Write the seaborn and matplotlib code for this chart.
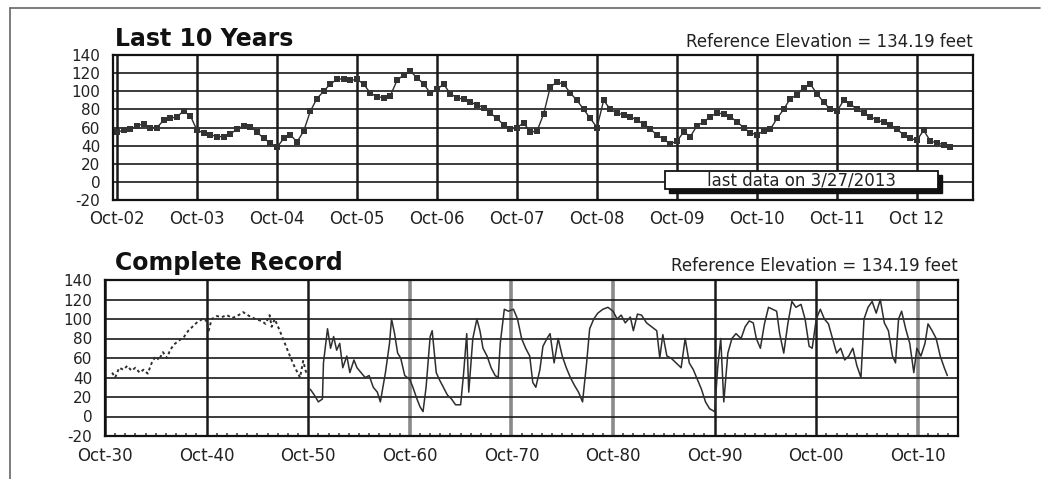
import numpy as np
import pandas as pd
import matplotlib
matplotlib.use("Agg")
import matplotlib.pyplot as plt
from matplotlib.patches import Rectangle
from matplotlib.lines import Line2D
import seaborn as sns

# ---------------- data ----------------
# Last 10 years: monthly levels (feet relative to reference), Oct 2002 .. Mar 2013
recent_levels = [
    55, 57, 58, 62, 64, 60, 60, 68, 70, 72, 78, 73,          # Oct02-Sep03
    57, 54, 52, 50, 50, 53, 58, 62, 61, 55, 48, 43,          # Oct03-Sep04
    38, 48, 52, 44, 56, 78, 92, 100, 108, 113, 114, 112,     # Oct04-Sep05
    113, 108, 98, 94, 93, 95, 112, 118, 122, 115, 108, 98,   # Oct05-Sep06
    102, 108, 97, 93, 91, 88, 85, 82, 76, 70, 63, 58,        # Oct06-Sep07
    60, 65, 55, 56, 75, 105, 110, 108, 98, 90, 80, 70,       # Oct07-Sep08
    60, 90, 80, 76, 74, 72, 68, 64, 58, 52, 47, 42,          # Oct08-Sep09
    45, 55, 50, 62, 66, 72, 76, 75, 72, 66, 60, 54,          # Oct09-Sep10
    52, 56, 58, 70, 80, 92, 96, 104, 108, 97, 88, 80,        # Oct10-Sep11
    78, 90, 86, 80, 76, 72, 68, 66, 63, 58, 52, 48,          # Oct11-Sep12
    46, 57, 45, 43, 41, 39,                                  # Oct12-Mar13
]
recent_month_index = list(range(len(recent_levels)))
recent_tick_labels = ["Oct-02", "Oct-03", "Oct-04", "Oct-05", "Oct-06", "Oct-07",
                      "Oct-08", "Oct-09", "Oct-10", "Oct-11", "Oct 12"]

# Complete record (early sparse period)
early_years = [1930.7, 1931.0, 1931.4, 1931.8, 1932.2, 1932.6, 1933.0, 1933.4, 1933.8,
               1934.2, 1934.6, 1935.0, 1935.3, 1935.7, 1936.1, 1936.4, 1936.8, 1937.3,
               1937.8, 1938.2, 1938.7, 1939.1, 1939.6, 1940.0, 1940.2, 1940.5, 1941.0,
               1941.5, 1942.0, 1942.5, 1943.0, 1943.6, 1944.2, 1944.8, 1945.4, 1945.8,
               1946.2, 1946.4, 1946.7, 1947.2, 1947.7, 1948.2, 1948.7, 1949.2, 1949.5,
               1949.8]
early_levels = [45, 40, 50, 48, 52, 47, 50, 45, 48,
                44, 55, 62, 58, 66, 60, 68, 74, 78,
                82, 88, 93, 97, 100, 98, 88, 100, 103,
                102, 104, 101, 103, 107, 103, 100, 98, 95,
                104, 92, 100, 88, 75, 62, 50, 40, 57,
                45]

# Complete record (later dense period)
later_years = [1950.2, 1950.6, 1951.0, 1951.4, 1951.5, 1951.9, 1952.2, 1952.5, 1952.8,
               1953.1, 1953.4, 1953.8, 1954.1, 1954.5, 1954.8, 1955.2, 1955.6, 1956.0,
               1956.4, 1956.8, 1957.1, 1957.6, 1958.0, 1958.2, 1958.5, 1958.8, 1959.1,
               1959.5, 1960.0, 1960.3, 1960.7, 1961.0, 1961.3, 1961.6, 1962.0, 1962.2,
               1962.6, 1962.9, 1963.3, 1963.7, 1964.1, 1964.5, 1965.0, 1965.3, 1965.6,
               1965.8, 1966.2, 1966.6, 1966.9, 1967.2, 1967.6, 1968.0, 1968.4, 1968.7,
               1968.9, 1969.3, 1969.7, 1970.2, 1970.6, 1971.0, 1971.4, 1971.8, 1972.1,
               1972.4, 1972.8, 1973.1, 1973.5, 1973.8, 1974.2, 1974.6, 1975.0, 1975.4,
               1975.8, 1976.2, 1976.6, 1977.0, 1977.4, 1977.7, 1978.1, 1978.5, 1979.0,
               1979.5, 1980.0, 1980.4, 1980.8, 1981.2, 1981.7, 1982.0, 1982.4, 1982.8,
               1983.3, 1983.8, 1984.3, 1984.6, 1984.9, 1985.3, 1985.7, 1986.2, 1986.7,
               1987.1, 1987.5, 1987.9, 1988.3, 1988.7, 1989.1, 1989.5, 1990.0, 1990.3,
               1990.6, 1990.9, 1991.3, 1991.7, 1992.1, 1992.6, 1993.0, 1993.4, 1993.8,
               1994.1, 1994.5, 1994.9, 1995.3, 1995.7, 1996.1, 1996.4, 1996.8, 1997.2,
               1997.6, 1998.0, 1998.5, 1998.9, 1999.3, 1999.6, 2000.0, 2000.4, 2000.8,
               2001.2, 2001.6, 2002.0, 2002.4, 2002.8, 2003.2, 2003.6, 2004.0, 2004.4,
               2004.7, 2005.1, 2005.5, 2005.9, 2006.3, 2006.7, 2007.1, 2007.5, 2007.8,
               2008.1, 2008.4, 2008.8, 2009.2, 2009.6, 2009.9, 2010.3, 2010.7, 2011.0,
               2011.4, 2011.8, 2012.2, 2012.6, 2012.9]
later_levels = [28, 22, 15, 18, 55, 90, 70, 82, 68,
                75, 50, 62, 45, 58, 50, 45, 40, 42,
                30, 25, 15, 45, 75, 100, 85, 65, 60,
                42, 38, 30, 18, 10, 5, 30, 82, 88,
                45, 38, 30, 22, 18, 12, 12, 45, 85,
                25, 80, 100, 88, 70, 62, 50, 42, 40,
                75, 110, 108, 110, 100, 80, 70, 62, 35,
                30, 48, 72, 80, 85, 55, 80, 62, 50,
                40, 32, 25, 15, 55, 90, 100, 106, 110,
                112, 108, 100, 104, 96, 102, 88, 105, 104,
                96, 92, 88, 60, 84, 62, 60, 55, 50,
                80, 55, 48, 38, 28, 15, 8, 5, 50,
                80, 15, 65, 80, 85, 80, 92, 98, 96,
                80, 70, 95, 112, 110, 108, 85, 65, 95,
                118, 112, 115, 100, 72, 70, 100, 110, 100,
                95, 80, 65, 70, 58, 62, 70, 52, 40,
                100, 112, 118, 106, 120, 96, 88, 62, 55,
                100, 108, 90, 75, 45, 70, 62, 75, 95,
                88, 80, 62, 50, 42]
record_tick_years = [1930, 1940, 1950, 1960, 1970, 1980, 1990, 2000, 2010]
record_tick_labels = ["Oct-30", "Oct-40", "Oct-50", "Oct-60", "Oct-70",
                      "Oct-80", "Oct-90", "Oct-00", "Oct-10"]

y_ticks = [-20, 0, 20, 40, 60, 80, 100, 120, 140]

# ---------------- figure ----------------
sns.set_theme(style="white")
plt.rcParams["font.family"] = ["DejaVu Sans"]

W, H = 1045, 479
fig = plt.figure(figsize=(W / 100, H / 100), dpi=100)
fig.patch.set_facecolor("white")

def px_axes(left, top, right, bottom):
    return fig.add_axes([left / W, 1 - bottom / H, (right - left) / W, (bottom - top) / H])

ax1 = px_axes(113, 55, 973, 200)
ax2 = px_axes(105, 280, 958, 436)

line_col = "#2e2e2e"
grid_col = "#1a1a1a"

def style_axes(ax):
    ax.set_ylim(-20, 140)
    ax.set_yticks(y_ticks)
    ax.set_yticklabels([str(v) for v in y_ticks])
    ax.grid(True, axis="y", color=grid_col, linewidth=1.2)
    ax.grid(True, axis="x", color=grid_col, linewidth=1.8)
    ax.set_axisbelow(True)
    for s in ax.spines.values():
        s.set_color("#111")
        s.set_linewidth(1.6)
    ax.tick_params(axis="both", which="major", length=0, colors="#222")
    ax.tick_params(axis="y", pad=9, labelsize=11)
    ax.tick_params(axis="x", pad=7, labelsize=12)
    ax.set_xlabel("")
    ax.set_ylabel("")
    ax.set_facecolor("white")

# top: last 10 years
df_recent = pd.DataFrame({"month": recent_month_index, "level": recent_levels})
sns.lineplot(data=df_recent, x="month", y="level", ax=ax1, color=line_col,
             linewidth=1.0, marker="s", markersize=5, markeredgewidth=0,
             markerfacecolor="#333", sort=False)
ax1.set_xlim(-0.6, 128.4)
ax1.set_xticks([12 * i for i in range(len(recent_tick_labels))])
ax1.set_xticklabels(recent_tick_labels)
style_axes(ax1)

# bottom: complete record
df_early = pd.DataFrame({"year": early_years, "level": early_levels})
df_later = pd.DataFrame({"year": later_years, "level": later_levels})
sns.lineplot(data=df_early, x="year", y="level", ax=ax2, color=line_col,
             linewidth=1.4, linestyle=(0, (1.5, 1.5)), sort=False)
sns.lineplot(data=df_later, x="year", y="level", ax=ax2, color=line_col,
             linewidth=1.1, sort=False)
ax2.set_xlim(1930, 2013.95)
ax2.set_xticks(record_tick_years)
ax2.set_xticklabels(record_tick_labels)
style_axes(ax2)
ax2.tick_params(axis="x", pad=8)
ax2.set_xticks(np.arange(1931, 2014, 1), minor=True)
ax2.tick_params(axis="x", which="minor", direction="in", length=2.5, width=1.2,
                color="#444", bottom=True)
# scanned look: some decade lines print lighter/greyer
for lbl, gl in zip(record_tick_labels, ax2.get_xgridlines()):
    if lbl in ("Oct-60", "Oct-70", "Oct-80", "Oct-10"):
        gl.set_color("#8a8a8a")
        gl.set_linewidth(2.6)

# titles
ax1.text(0.002, 1.03, "Last 10 Years", transform=ax1.transAxes, fontsize=17,
         fontweight="bold", ha="left", va="bottom", color="#111")
ax1.text(1.0, 1.03, "Reference Elevation = 134.19 feet", transform=ax1.transAxes,
         fontsize=12, ha="right", va="bottom", color="#222")
ax2.text(0.012, 1.03, "Complete Record", transform=ax2.transAxes, fontsize=17,
         fontweight="bold", ha="left", va="bottom", color="#111")
ax2.text(1.0, 1.03, "Reference Elevation = 134.19 feet", transform=ax2.transAxes,
         fontsize=12, ha="right", va="bottom", color="#222")

# annotation box with drop shadow (axes-fraction geometry)
bx0, by0, bw, bh = 0.642, 0.075, 0.317, 0.122
ax1.add_patch(Rectangle((bx0 + 0.005, by0 - 0.025), bw, bh, transform=ax1.transAxes,
                        facecolor="#111", edgecolor="#111", zorder=5))
ax1.add_patch(Rectangle((bx0, by0), bw, bh, transform=ax1.transAxes,
                        facecolor="white", edgecolor="#111", lw=1.3, zorder=6))
ax1.text(bx0 + bw / 2, by0 + bh / 2, "last data on 3/27/2013", transform=ax1.transAxes,
         fontsize=12, ha="center", va="center", color="#222", zorder=7)

# outer frame (top and left edges of the scanned box)
fig.add_artist(Line2D([10 / W, 10 / W], [0, 1 - 8 / H], color="#666", lw=1.2))
fig.add_artist(Line2D([10 / W, 1040 / W], [1 - 8 / H, 1 - 8 / H], color="#666", lw=1.2))

fig.savefig("out.png", dpi=100, facecolor="white")
